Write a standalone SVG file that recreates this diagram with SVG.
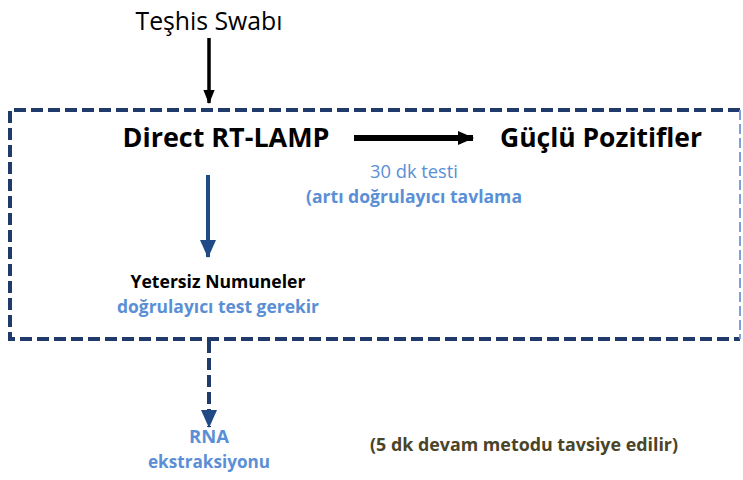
<svg xmlns="http://www.w3.org/2000/svg" width="743" height="480" viewBox="0 0 743 480">
<style>
text{font-family:"Open Sans","Noto Sans",sans-serif;text-anchor:middle}
.big{font-size:27px;font-weight:700;fill:#000}
.blue{fill:#5b8fd5}
.b{font-weight:700}
.navy{stroke:#1f3a6b;fill:none}
</style>
<defs>
<marker id="ahBlack" markerWidth="16" markerHeight="16" refX="15" refY="7" orient="auto" markerUnits="userSpaceOnUse" viewBox="0 0 16 14"><path d="M0,0 L16,7 L0,14 z" fill="#000"/></marker>
<marker id="ahBlackS" markerWidth="14" markerHeight="14" refX="15" refY="6.5" orient="auto" markerUnits="userSpaceOnUse" viewBox="0 0 16 13"><path d="M0,0 L16,6.5 L0,13 z" fill="#000"/></marker>
<marker id="ahNavy" markerWidth="18" markerHeight="16" refX="17" refY="8" orient="auto" markerUnits="userSpaceOnUse" viewBox="0 0 18 16"><path d="M0,0 L18,8 L0,16 z" fill="#1f4a86"/></marker>
</defs>
<g id="box">
<path class="navy" d="M740,110 H10 V339 H740" stroke-width="4" stroke-dasharray="12,5"/>
<line x1="740" y1="110" x2="740" y2="339" stroke="#7f9fd8" stroke-width="2" stroke-dasharray="10,4"/>
</g>
<g id="connectors">
<line x1="209" y1="38" x2="209" y2="103" stroke="#000" stroke-width="3.5" marker-end="url(#ahBlackS)"/>
<line x1="354" y1="138" x2="473" y2="138" stroke="#000" stroke-width="6" marker-end="url(#ahBlack)"/>
<line x1="208" y1="175" x2="208" y2="257" stroke="#1f4a86" stroke-width="4" marker-end="url(#ahNavy)"/>
<line x1="209" y1="341" x2="209" y2="427" stroke="#1f3a6b" stroke-width="4" stroke-dasharray="12,5" marker-end="url(#ahNavy)"/>
</g>
<g id="n_swab"><text x="209" y="30" font-size="25" textLength="147" lengthAdjust="spacingAndGlyphs">Teşhis Swabı</text></g>
<g id="n_lamp"><text class="big" x="226" y="147" textLength="207" lengthAdjust="spacingAndGlyphs">Direct RT-LAMP</text></g>
<g id="n_pos"><text class="big" x="601" y="147" textLength="202" lengthAdjust="spacingAndGlyphs">Güçlü Pozitifler</text>
<text class="blue" x="414" y="178" font-size="18" textLength="88" lengthAdjust="spacingAndGlyphs">30 dk testi</text>
<text class="blue b" x="414" y="203" font-size="18" textLength="216" lengthAdjust="spacingAndGlyphs">(artı doğrulayıcı tavlama</text></g>
<g id="n_yet"><text class="b" x="218" y="288" font-size="18" textLength="175" lengthAdjust="spacingAndGlyphs">Yetersiz Numuneler</text>
<text class="blue b" x="218" y="313" font-size="18" textLength="202" lengthAdjust="spacingAndGlyphs">doğrulayıcı test gerekir</text></g>
<g id="n_rna"><text class="blue b" x="209" y="443" font-size="18" textLength="40" lengthAdjust="spacingAndGlyphs">RNA</text>
<text class="blue b" x="209" y="468" font-size="18" textLength="122" lengthAdjust="spacingAndGlyphs">ekstraksiyonu</text></g>
<g id="n_note"><text class="b" x="524" y="451" font-size="18" fill="#4a4428" textLength="308" lengthAdjust="spacingAndGlyphs">(5 dk devam metodu tavsiye edilir)</text></g>
</svg>
